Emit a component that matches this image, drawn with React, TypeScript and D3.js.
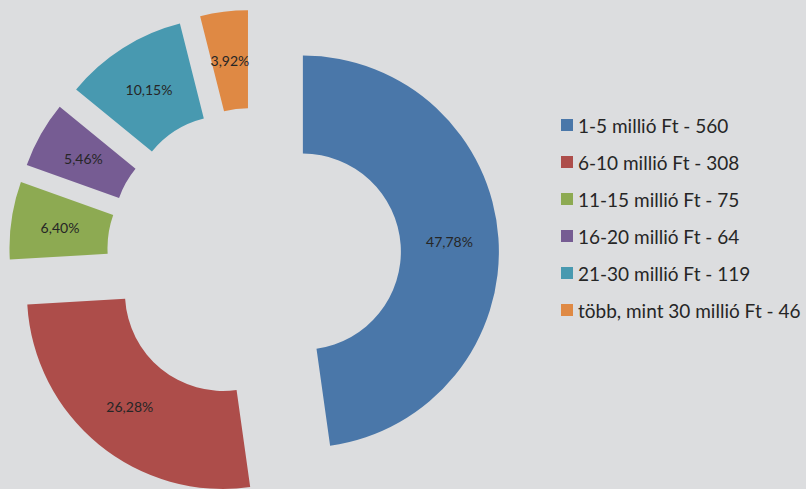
import React from 'react';
import * as d3 from 'd3';

// Income bands and counts
const categories = [
  '1-5 millió Ft',
  '6-10 millió Ft',
  '11-15 millió Ft',
  '16-20 millió Ft',
  '21-30 millió Ft',
  'több, mint 30 millió Ft',
];
const values = [560, 308, 75, 64, 119, 46];
const colors = ['#4A77A9', '#AD4D4A', '#8DAA52', '#765C93', '#4899B0', '#DF8944'];

const W = 806;
const H = 489;

interface Slice {
  name: string;
  value: number;
  color: string;
}

const data: Slice[] = categories.map((c, i) => ({ name: c, value: values[i], color: colors[i] }));

export default function App() {
  const cx = 254;
  const cy = 255;
  const outerR = 196;
  const innerR = 98;
  const explode = 49;

  const total = d3.sum(values);
  const pie = d3.pie<Slice>().value(d => d.value).sort(null);
  const arcs = pie(data);
  const arc = d3.arc<d3.PieArcDatum<Slice>>().innerRadius(innerR).outerRadius(outerR);
  const labelArc = d3.arc<d3.PieArcDatum<Slice>>()
    .innerRadius((innerR + outerR) / 2)
    .outerRadius((innerR + outerR) / 2);

  const fmt = (v: number) => ((v / total) * 100).toFixed(2).replace('.', ',') + '%';

  // legend layout
  const legendX = 561;
  const legendY = d3.scalePoint<string>().domain(categories).range([125, 310]);

  return (
    <svg width={W} height={H} style={{ position: 'absolute', left: 0, top: 0, background: '#DCDDDF' }}>
      <rect width={W} height={H} fill="#DCDDDF" />
      <g transform={`translate(${cx},${cy})`}>
        {arcs.map((a, i) => {
          const mid = (a.startAngle + a.endAngle) / 2;
          const dx = explode * Math.sin(mid);
          const dy = -explode * Math.cos(mid);
          const [lx, ly] = labelArc.centroid(a);
          return (
            <g key={i} transform={`translate(${dx},${dy})`}>
              <path d={arc(a) || ''} fill={a.data.color} />
              <text
                x={lx}
                y={ly}
                textAnchor="middle"
                dominantBaseline="central"
                fontFamily="Lato, 'Open Sans', sans-serif"
                fontSize={14}
                fill="#262626"
              >
                {fmt(a.data.value)}
              </text>
            </g>
          );
        })}
      </g>
      <g>
        {data.map((d, i) => {
          const y = legendY(d.name) || 0;
          return (
            <g key={i}>
              <rect x={legendX} y={y - 6} width={12} height={12} fill={d.color} />
              <text
                x={legendX + 17}
                y={y}
                dominantBaseline="central"
                fontFamily="Lato, 'Open Sans', sans-serif"
                fontSize={19}
                fill="#262626"
              >
                {`${d.name} - ${d.value}`}
              </text>
            </g>
          );
        })}
      </g>
    </svg>
  );
}
